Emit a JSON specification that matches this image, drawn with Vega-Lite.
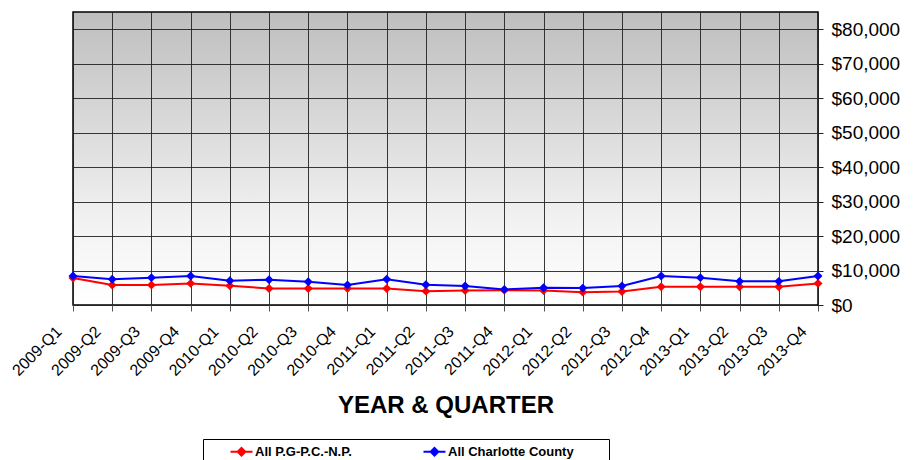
{
  "$schema": "https://vega.github.io/schema/vega-lite/v6.json",
  "width": 745,
  "height": 293,
  "autosize": {"type": "none"},
  "padding": {"left": 73, "top": 12, "right": 101, "bottom": 155},
  "background": "white",
  "config": {
    "font": "Liberation Sans",
    "view": {
      "stroke": "#000000",
      "strokeWidth": 1.5,
      "fill": {"gradient": "linear", "x1": 0, "y1": 0, "x2": 0, "y2": 1,
        "stops": [{"offset": 0, "color": "#bebebe"}, {"offset": 0.75, "color": "#f4f4f4"}, {"offset": 1, "color": "#ffffff"}]}
    }
  },
  "data": {
    "values": [
      {"quarter": "2009-Q1", "series": "All P.G-P.C.-N.P.", "value": 7840},
      {"quarter": "2009-Q2", "series": "All P.G-P.C.-N.P.", "value": 5780},
      {"quarter": "2009-Q3", "series": "All P.G-P.C.-N.P.", "value": 5780},
      {"quarter": "2009-Q4", "series": "All P.G-P.C.-N.P.", "value": 6270},
      {"quarter": "2010-Q1", "series": "All P.G-P.C.-N.P.", "value": 5590},
      {"quarter": "2010-Q2", "series": "All P.G-P.C.-N.P.", "value": 4800},
      {"quarter": "2010-Q3", "series": "All P.G-P.C.-N.P.", "value": 4800},
      {"quarter": "2010-Q4", "series": "All P.G-P.C.-N.P.", "value": 4800},
      {"quarter": "2011-Q1", "series": "All P.G-P.C.-N.P.", "value": 4800},
      {"quarter": "2011-Q2", "series": "All P.G-P.C.-N.P.", "value": 4020},
      {"quarter": "2011-Q3", "series": "All P.G-P.C.-N.P.", "value": 4220},
      {"quarter": "2011-Q4", "series": "All P.G-P.C.-N.P.", "value": 4310},
      {"quarter": "2012-Q1", "series": "All P.G-P.C.-N.P.", "value": 4220},
      {"quarter": "2012-Q2", "series": "All P.G-P.C.-N.P.", "value": 3730},
      {"quarter": "2012-Q3", "series": "All P.G-P.C.-N.P.", "value": 3920},
      {"quarter": "2012-Q4", "series": "All P.G-P.C.-N.P.", "value": 5290},
      {"quarter": "2013-Q1", "series": "All P.G-P.C.-N.P.", "value": 5290},
      {"quarter": "2013-Q2", "series": "All P.G-P.C.-N.P.", "value": 5290},
      {"quarter": "2013-Q3", "series": "All P.G-P.C.-N.P.", "value": 5290},
      {"quarter": "2013-Q4", "series": "All P.G-P.C.-N.P.", "value": 6270},
      {"quarter": "2009-Q1", "series": "All Charlotte County", "value": 8440},
      {"quarter": "2009-Q2", "series": "All Charlotte County", "value": 7450},
      {"quarter": "2009-Q3", "series": "All Charlotte County", "value": 7940},
      {"quarter": "2009-Q4", "series": "All Charlotte County", "value": 8440},
      {"quarter": "2010-Q1", "series": "All Charlotte County", "value": 7060},
      {"quarter": "2010-Q2", "series": "All Charlotte County", "value": 7350},
      {"quarter": "2010-Q3", "series": "All Charlotte County", "value": 6760},
      {"quarter": "2010-Q4", "series": "All Charlotte County", "value": 5780},
      {"quarter": "2011-Q1", "series": "All Charlotte County", "value": 7450},
      {"quarter": "2011-Q2", "series": "All Charlotte County", "value": 5880},
      {"quarter": "2011-Q3", "series": "All Charlotte County", "value": 5490},
      {"quarter": "2011-Q4", "series": "All Charlotte County", "value": 4510},
      {"quarter": "2012-Q1", "series": "All Charlotte County", "value": 5000},
      {"quarter": "2012-Q2", "series": "All Charlotte County", "value": 4900},
      {"quarter": "2012-Q3", "series": "All Charlotte County", "value": 5490},
      {"quarter": "2012-Q4", "series": "All Charlotte County", "value": 8440},
      {"quarter": "2013-Q1", "series": "All Charlotte County", "value": 7940},
      {"quarter": "2013-Q2", "series": "All Charlotte County", "value": 6860},
      {"quarter": "2013-Q3", "series": "All Charlotte County", "value": 6860},
      {"quarter": "2013-Q4", "series": "All Charlotte County", "value": 8440}
    ]
  },
  "mark": {"type": "line", "strokeWidth": 2, "point": {"filled": true, "shape": "diamond", "size": 80}},
  "encoding": {
    "x": {
      "field": "quarter", "type": "ordinal",
      "scale": {"type": "point", "padding": 0},
      "axis": {
        "title": "YEAR & QUARTER", "titleFontSize": 24, "titleFontWeight": "bold", "titleColor": "#000000",
        "titlePadding": 15,
        "labelAngle": -45, "labelAlign": "right", "labelBaseline": "top", "labelFontSize": 16, "labelColor": "#000000",
        "labelPadding": 12, "labelOffset": -20,
        "grid": true, "gridColor": "#222222", "gridWidth": 1, "gridOpacity": 0.9,
        "domain": false, "tickColor": "#555555", "tickSize": 6
      }
    },
    "y": {
      "field": "value", "type": "quantitative",
      "scale": {"domain": [0, 85000], "nice": false, "zero": true},
      "axis": {
        "orient": "right", "title": null, "values": [0, 10000, 20000, 30000, 40000, 50000, 60000, 70000, 80000],
        "format": "$,.0f", "labelFontSize": 19, "labelColor": "#000000", "labelPadding": 8,
        "grid": true, "gridColor": "#222222", "gridWidth": 1, "gridOpacity": 0.9,
        "domain": false, "tickColor": "#222222", "tickSize": 5
      }
    },
    "color": {
      "field": "series", "type": "nominal",
      "scale": {"domain": ["All P.G-P.C.-N.P.", "All Charlotte County"], "range": ["#ff0000", "#0000ff"]},
      "legend": {
        "title": null, "orient": "none", "legendX": 130, "legendY": 427, "direction": "horizontal",
        "strokeColor": "#000000", "padding": 6, "columnPadding": 50,
        "labelFontSize": 13, "labelFontWeight": "bold", "labelColor": "#000000", "labelLimit": 400,
        "symbolType": "M-2,0L2,0M0,-0.7L0.7,0L0,0.7L-0.7,0Z", "symbolSize": 121, "symbolStrokeWidth": 2,
        "symbolOffset": 26, "labelOffset": 7,
        "labelExpr": "datum.label == 'All Charlotte County' ? datum.label + '        \u200b' : datum.label",
        "encode": {"symbols": {"update": {
          "fill": {"scale": "color", "field": "value"},
          "stroke": {"scale": "color", "field": "value"},
          "strokeWidth": {"value": 2},
          "opacity": {"value": 1}
        }}}
      }
    }
  }
}
